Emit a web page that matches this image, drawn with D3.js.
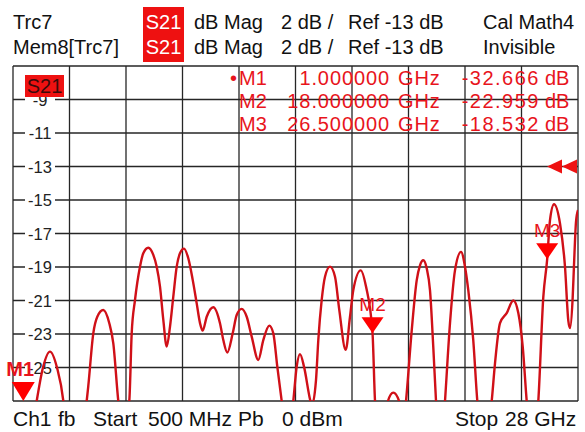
<!DOCTYPE html>
<html>
<head>
<meta charset="utf-8">
<script src="https://cdn.jsdelivr.net/npm/d3@7"></script>
<style>
    html, body { margin: 0; padding: 0; background: #fff; }
    svg { display: block; font-family: "Liberation Sans", Arial, sans-serif; }
</style>
</head>
<body>
<svg id="chart" width="585" height="432"></svg>
<script>
// trace: [frequency GHz, magnitude dB]
const trace = [
    [0.5, -29.5], [0.8, -31.5], [1.0, -32.666], [1.3, -30.0], [1.654, -27], [1.96, -25.0],
    [2.3, -24.05], [2.64, -25.0], [2.95, -27], [3.2, -30.5], [3.6, -30], [4.087, -27],
    [4.165, -26.1], [4.408, -22.96], [4.603, -21.97], [4.895, -21.57], [5.187, -22.36],
    [5.382, -23.56], [5.625, -27], [5.85, -29], [6.16, -27], [6.277, -22.96], [6.438, -20.97],
    [6.681, -18.98], [6.842, -18.18], [7.085, -17.85], [7.329, -18.28], [7.494, -18.98],
    [7.655, -20.17], [7.816, -22.16], [7.981, -23.75], [8.142, -22.56], [8.302, -20.77],
    [8.468, -18.98], [8.628, -18.18], [8.823, -17.9], [9.032, -18.48], [9.247, -19.77],
    [9.441, -21.17], [9.602, -22.35], [9.733, -22.8], [9.928, -21.97], [10.249, -21.4],
    [10.575, -22.36], [10.736, -23.36], [10.931, -24.1], [11.193, -22.96], [11.388, -21.87],
    [11.631, -21.5], [11.875, -21.97], [12.118, -23.16], [12.439, -24.55], [12.683, -23.36],
    [12.975, -22.5], [13.17, -22.96], [13.364, -24.95], [13.578, -27], [13.85, -29.5],
    [14.143, -27], [14.308, -24.95], [14.469, -24.2], [14.664, -24.95], [14.956, -26.9],
    [15.039, -27.3], [15.248, -25.75], [15.36, -23.36], [15.525, -20.97], [15.686, -19.58],
    [15.929, -18.98], [16.173, -19.58], [16.382, -21.57], [16.693, -23.95], [16.903, -21.97],
    [17.064, -20.37], [17.424, -19.2], [17.682, -20.17], [18.0, -22.959], [18.12, -27],
    [18.4, -30], [18.75, -27], [19.01, -26.5], [19.29, -27], [19.45, -29], [19.629, -27],
    [19.906, -22.8], [20.149, -19.8], [20.31, -18.9], [20.471, -18.6], [20.636, -19.08],
    [20.797, -20.4], [20.957, -23.8], [21.089, -27], [21.3, -31], [21.527, -27], [21.77, -22.35],
    [22.013, -19.2], [22.306, -18.1], [22.5, -18.98], [22.661, -20.4], [22.904, -23.4],
    [23.099, -27], [23.45, -30], [23.8, -27], [23.96, -24.75], [24.204, -22.35], [24.53, -21.75],
    [24.851, -21.0], [25.095, -21.75], [25.309, -23.76], [25.503, -27], [25.75, -30],
    [26.068, -27], [26.311, -20.8], [26.5, -18.532], [26.637, -16.2], [26.832, -15.25],
    [27.124, -16.4], [27.368, -19], [27.528, -22.2], [27.611, -22.65], [27.742, -20.8],
    [27.805, -18.9], [27.903, -16.3], [28.0, -15.6]
];

const markerNames = ['M1', 'M2', 'M3'];
const markerFreqs = [1.0, 18.0, 26.5];
const markerValues = [-32.666, -22.959, -18.532];

const yTickLabels = [-9, -11, -13, -15, -17, -19, -21, -23, -25];

const startGHz = 0.5, stopGHz = 28;
const refLevel = -13, dbPerDiv = 2, divisions = 10;

const headerRow1 = ['Trc7', 'dB Mag', '2 dB /', 'Ref -13 dB', 'Cal Math4'];
const headerRow2 = ['Mem8[Trc7]', 'dB Mag', '2 dB /', 'Ref -13 dB', 'Invisible'];
const footerLabels = ['Ch1', 'fb', 'Start', '500 MHz', 'Pb', '0 dBm', 'Stop', '28 GHz'];

const RED = '#e8141c';
const plot = {left: 13, right: 578, top: 66, bottom: 401};

const svg = d3.select('#chart');

const x = d3.scaleLinear().domain([startGHz, stopGHz]).range([plot.left, plot.right]);
const yTop = refLevel + dbPerDiv * divisions * 0.3;
const y = d3.scaleLinear().domain([yTop - dbPerDiv * divisions, yTop]).range([plot.bottom, plot.top]);

// grid
const grid = svg.append('g');
const xGrid = d3.range(divisions + 1).map(i => startGHz + i * (stopGHz - startGHz) / divisions);
const yGrid = d3.range(divisions + 1).map(i => y.domain()[0] + i * dbPerDiv);

grid.selectAll('.vline')
    .data(xGrid)
    .enter()
    .append('line')
    .attr('x1', d => x(d)).attr('x2', d => x(d))
    .attr('y1', plot.top).attr('y2', plot.bottom)
    .style('stroke', '#262626')
    .style('stroke-width', '1.3px');

grid.selectAll('.hline')
    .data(yGrid)
    .enter()
    .append('line')
    .attr('x1', plot.left).attr('x2', plot.right)
    .attr('y1', d => y(d)).attr('y2', d => y(d))
    .style('stroke', '#262626')
    .style('stroke-width', '1.3px');

// y tick labels with white background
const ticks = svg.append('g');
ticks.selectAll('rect')
    .data(yTickLabels)
    .enter()
    .append('rect')
    .attr('x', 25).attr('y', d => y(d) - 8)
    .attr('width', 30).attr('height', 16)
    .style('fill', '#fff');
ticks.selectAll('text')
    .data(yTickLabels)
    .enter()
    .append('text')
    .attr('x', 40).attr('y', d => y(d) + 6)
    .attr('text-anchor', 'middle')
    .style('font-size', '16.5px')
    .style('fill', '#222')
    .text(d => '-' + Math.abs(d));

// trace
svg.append('clipPath').attr('id', 'clip')
    .append('rect')
    .attr('x', plot.left).attr('y', plot.top)
    .attr('width', plot.right - plot.left).attr('height', plot.bottom - plot.top);

const line = d3.line()
    .x(d => x(d[0]))
    .y(d => y(d[1]))
    .curve(d3.curveMonotoneX);

svg.append('path')
    .datum(trace)
    .attr('d', line)
    .attr('clip-path', 'url(#clip)')
    .style('fill', 'none')
    .style('stroke', '#d01018')
    .style('stroke-width', '2.4px')
    .style('stroke-linejoin', 'round');

// markers
const markers = markerNames.map((name, i) => ({name: name, f: markerFreqs[i], v: markerValues[i], active: i === 0}));
const mg = svg.append('g');
markers.forEach(function (m) {
    const cx = x(m.f);
    const cy = Math.min(y(m.v), plot.bottom);
    const w = m.active ? 23 : 22;
    const h = m.active ? 19 : 16;
    mg.append('polygon')
        .attr('points', (cx - w / 2) + ',' + (cy - h) + ' ' + (cx + w / 2) + ',' + (cy - h) + ' ' + cx + ',' + cy)
        .style('fill', '#f00');
    mg.append('text')
        .attr('x', cx - (m.active ? 3 : 0)).attr('y', cy - h - 6)
        .attr('text-anchor', 'middle')
        .style('font-size', m.active ? '20px' : '19px')
        .style('font-weight', m.active ? 'bold' : 'normal')
        .style('fill', RED)
        .text(m.name);
});

// S21 trace label inside the plot
svg.append('rect').attr('x', 25).attr('y', 75).attr('width', 39).attr('height', 22).style('fill', '#ee1111');
svg.append('text').attr('x', 44.5).attr('y', 93).attr('text-anchor', 'middle')
    .style('font-size', '20px').style('fill', '#3a0a0a').text('S21');

// marker table
const table = svg.append('g').style('font-size', '20px').style('fill', RED);
markers.forEach(function (m, i) {
    const by = 85 + i * 23;
    if (m.active) {
        table.append('text').attr('x', 230).attr('y', by).text('\u2022');
    }
    table.append('text').attr('x', 239).attr('y', by).text(m.name);
    table.append('text').attr('x', 390).attr('y', by).attr('text-anchor', 'end')
        .style('letter-spacing', '0.9px').text(m.f.toFixed(6));
    table.append('text').attr('x', 398).attr('y', by).style('letter-spacing', '0.9px').text('GHz');
    table.append('text').attr('x', 540).attr('y', by).attr('text-anchor', 'end')
        .style('letter-spacing', '1.5px').text(m.v.toFixed(3));
    table.append('text').attr('x', 545).attr('y', by).text('dB');
});

// reference level arrows
const ry = y(refLevel);
[547, 562].forEach(function (ax) {
    svg.append('polygon')
        .attr('points', ax + ',' + ry + ' ' + (ax + 15) + ',' + (ry - 7) + ' ' + (ax + 15) + ',' + (ry + 7))
        .style('fill', '#ee1111');
});

// header
const header = svg.append('g').style('font-size', '20px').style('fill', '#111');
const headerX = [13, 194, 281, 348, 483];
svg.append('rect').attr('x', 143).attr('y', 7).attr('width', 41).attr('height', 55).style('fill', '#ee1111');
[headerRow1, headerRow2].forEach(function (row, r) {
    const by = r === 0 ? 29 : 54;
    svg.append('text').attr('x', 163.5).attr('y', by).attr('text-anchor', 'middle')
        .style('font-size', '20px').style('fill', '#fff').text('S21');
    row.forEach(function (t, i) {
        header.append('text').attr('x', headerX[i]).attr('y', by).text(t);
    });
});

// footer
const footerX = [13, 58, 93, 148, 238, 282, 455, 505];
const footer = svg.append('g').style('font-size', '21px').style('fill', '#111');
footerLabels.forEach(function (t, i) {
    footer.append('text').attr('x', footerX[i]).attr('y', 426).text(t);
});
</script>
</body>
</html>
